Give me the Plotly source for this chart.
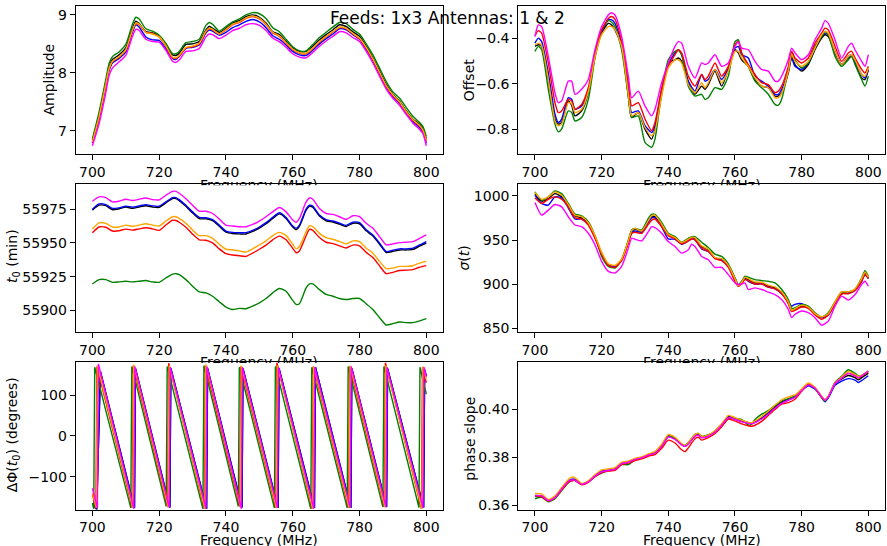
import plotly.graph_objects as go

# ---------------------------------------------------------------- data
# Amplitude vs frequency
freq_amp = [700, 702, 704, 705, 706, 708, 710, 712, 713, 714, 716, 718, 720, 722, 724, 725, 726, 728, 730,
            732, 734, 735, 736, 738, 740, 742, 744, 746, 748, 750, 752, 754, 756, 758, 760, 762, 764, 766,
            768, 770, 772, 774, 776, 778, 780, 782, 784, 786, 788, 790, 792, 794, 796, 798, 799, 800]
amp_black = [6.83, 7.26, 7.83, 8.11, 8.23, 8.31, 8.43, 8.77, 8.89, 8.85, 8.71, 8.69, 8.63, 8.49, 8.31, 8.30, 8.34,
             8.49, 8.50, 8.54, 8.74, 8.80, 8.77, 8.70, 8.77, 8.86, 8.90, 8.97, 9.00, 8.96, 8.86, 8.71, 8.66, 8.54,
             8.43, 8.37, 8.37, 8.46, 8.57, 8.66, 8.74, 8.83, 8.80, 8.71, 8.63, 8.46, 8.26, 8.03, 7.80, 7.63, 7.51,
             7.34, 7.20, 7.11, 7.03, 6.86]
amp_green = [6.86, 7.32, 7.88, 8.16, 8.28, 8.36, 8.49, 8.84, 8.96, 8.93, 8.76, 8.72, 8.65, 8.51, 8.33, 8.33, 8.37,
             8.52, 8.54, 8.58, 8.82, 8.87, 8.84, 8.72, 8.80, 8.88, 8.93, 9.00, 9.04, 9.02, 8.94, 8.78, 8.71, 8.58,
             8.45, 8.38, 8.38, 8.49, 8.61, 8.70, 8.79, 8.87, 8.85, 8.75, 8.67, 8.50, 8.31, 8.08, 7.85, 7.67, 7.56,
             7.40, 7.25, 7.14, 7.07, 6.90]
amp_orange = [6.81, 7.24, 7.80, 8.08, 8.20, 8.28, 8.40, 8.74, 8.86, 8.84, 8.70, 8.67, 8.62, 8.47, 8.27, 8.26, 8.30,
              8.44, 8.46, 8.51, 8.72, 8.77, 8.75, 8.67, 8.75, 8.84, 8.88, 8.95, 8.98, 8.94, 8.84, 8.70, 8.64, 8.52,
              8.41, 8.35, 8.34, 8.43, 8.54, 8.63, 8.71, 8.79, 8.77, 8.68, 8.60, 8.44, 8.24, 8.01, 7.78, 7.62, 7.50,
              7.33, 7.19, 7.09, 7.01, 6.83]
amp_red = [6.80, 7.22, 7.78, 8.06, 8.19, 8.27, 8.39, 8.73, 8.85, 8.83, 8.70, 8.68, 8.62, 8.46, 8.26, 8.25, 8.29,
           8.43, 8.45, 8.50, 8.71, 8.76, 8.74, 8.67, 8.74, 8.83, 8.87, 8.94, 8.97, 8.93, 8.83, 8.69, 8.63, 8.51,
           8.40, 8.34, 8.33, 8.42, 8.53, 8.62, 8.70, 8.78, 8.76, 8.67, 8.59, 8.43, 8.23, 8.00, 7.77, 7.61, 7.49,
           7.32, 7.18, 7.08, 7.00, 6.82]
amp_blue = [6.79, 7.20, 7.76, 8.04, 8.17, 8.25, 8.36, 8.70, 8.83, 8.79, 8.62, 8.57, 8.56, 8.42, 8.25, 8.23, 8.28,
            8.42, 8.44, 8.48, 8.69, 8.74, 8.72, 8.65, 8.70, 8.78, 8.83, 8.89, 8.92, 8.88, 8.78, 8.64, 8.58, 8.48,
            8.37, 8.31, 8.30, 8.39, 8.50, 8.59, 8.67, 8.76, 8.74, 8.66, 8.58, 8.41, 8.21, 7.98, 7.75, 7.59, 7.47,
            7.30, 7.16, 7.05, 6.98, 6.78]
amp_magenta = [6.74, 7.12, 7.65, 7.95, 8.08, 8.19, 8.30, 8.63, 8.75, 8.73, 8.58, 8.54, 8.53, 8.39, 8.20, 8.18, 8.22,
               8.37, 8.38, 8.42, 8.62, 8.67, 8.66, 8.59, 8.65, 8.73, 8.77, 8.83, 8.85, 8.82, 8.73, 8.60, 8.54, 8.44,
               8.33, 8.27, 8.26, 8.35, 8.46, 8.55, 8.63, 8.71, 8.69, 8.61, 8.54, 8.37, 8.17, 7.94, 7.72, 7.56, 7.44,
               7.28, 7.13, 7.02, 6.95, 6.74]

# Offset vs frequency
freq_off = [700, 701, 702, 704, 706, 707, 708, 710, 711, 712, 714, 716, 718, 720, 722, 723, 724, 726, 728, 729,
            731, 733, 735, 736, 738, 740, 742, 743, 744, 746, 748, 750, 751, 752, 754, 756, 758, 760, 761, 762,
            764, 766, 768, 770, 772, 773, 774, 776, 777, 778, 780, 782, 784, 786, 787, 788, 790, 792, 794, 795,
            796, 798, 799, 800]
off_magenta = [-0.393, -0.342, -0.349, -0.480, -0.640, -0.684, -0.676, -0.589, -0.589, -0.647, -0.625, -0.582,
               -0.451, -0.349, -0.298, -0.288, -0.298, -0.393, -0.567, -0.662, -0.633, -0.698, -0.742, -0.713,
               -0.596, -0.509, -0.436, -0.415, -0.422, -0.524, -0.575, -0.509, -0.516, -0.509, -0.473, -0.524,
               -0.509, -0.436, -0.415, -0.444, -0.451, -0.502, -0.538, -0.545, -0.589, -0.589, -0.567, -0.495,
               -0.444, -0.465, -0.495, -0.473, -0.407, -0.356, -0.323, -0.335, -0.407, -0.487, -0.436, -0.422,
               -0.451, -0.502, -0.524, -0.473]
off_red = [-0.390, -0.367, -0.378, -0.509, -0.684, -0.727, -0.720, -0.669, -0.676, -0.713, -0.691, -0.618, -0.465,
           -0.364, -0.313, -0.305, -0.317, -0.415, -0.596, -0.698, -0.684, -0.756, -0.807, -0.771, -0.625, -0.524,
           -0.473, -0.451, -0.465, -0.567, -0.611, -0.560, -0.582, -0.567, -0.509, -0.567, -0.524, -0.429, -0.415,
           -0.465, -0.516, -0.560, -0.596, -0.604, -0.640, -0.633, -0.611, -0.524, -0.458, -0.487, -0.509, -0.487,
           -0.422, -0.378, -0.356, -0.364, -0.436, -0.502, -0.465, -0.458, -0.487, -0.538, -0.553, -0.524]
off_blue = [-0.422, -0.400, -0.415, -0.553, -0.735, -0.771, -0.756, -0.662, -0.669, -0.713, -0.698, -0.633, -0.473,
            -0.371, -0.320, -0.320, -0.335, -0.422, -0.611, -0.727, -0.720, -0.785, -0.815, -0.785, -0.625, -0.516,
            -0.465, -0.451, -0.473, -0.589, -0.633, -0.560, -0.589, -0.582, -0.538, -0.582, -0.531, -0.444, -0.436,
            -0.473, -0.487, -0.567, -0.589, -0.611, -0.647, -0.647, -0.625, -0.545, -0.487, -0.524, -0.538, -0.509,
            -0.436, -0.393, -0.378, -0.385, -0.458, -0.516, -0.480, -0.473, -0.502, -0.560, -0.575, -0.538]
off_black = [-0.436, -0.429, -0.436, -0.582, -0.756, -0.778, -0.771, -0.676, -0.695, -0.742, -0.720, -0.640, -0.480,
             -0.378, -0.335, -0.342, -0.364, -0.436, -0.655, -0.749, -0.727, -0.800, -0.844, -0.800, -0.647, -0.509,
             -0.495, -0.487, -0.502, -0.596, -0.647, -0.611, -0.625, -0.604, -0.545, -0.611, -0.538, -0.451, -0.465,
             -0.495, -0.524, -0.582, -0.611, -0.618, -0.655, -0.655, -0.640, -0.553, -0.480, -0.516, -0.545, -0.516,
             -0.451, -0.400, -0.385, -0.393, -0.465, -0.516, -0.487, -0.480, -0.509, -0.575, -0.582, -0.538]
off_orange = [-0.429, -0.422, -0.433, -0.582, -0.764, -0.785, -0.778, -0.684, -0.687, -0.727, -0.713, -0.637, -0.483,
              -0.385, -0.349, -0.349, -0.361, -0.436, -0.647, -0.742, -0.727, -0.793, -0.829, -0.807, -0.655, -0.531,
              -0.495, -0.495, -0.509, -0.604, -0.640, -0.596, -0.618, -0.596, -0.538, -0.596, -0.545, -0.458, -0.458,
              -0.487, -0.524, -0.575, -0.611, -0.618, -0.662, -0.662, -0.643, -0.545, -0.473, -0.502, -0.524, -0.502,
              -0.444, -0.385, -0.371, -0.378, -0.458, -0.516, -0.480, -0.473, -0.495, -0.560, -0.567, -0.531]
off_green = [-0.458, -0.436, -0.451, -0.625, -0.778, -0.812, -0.800, -0.720, -0.727, -0.764, -0.749, -0.669, -0.487,
             -0.364, -0.323, -0.330, -0.349, -0.451, -0.655, -0.749, -0.742, -0.858, -0.880, -0.844, -0.640, -0.495,
             -0.458, -0.454, -0.473, -0.611, -0.655, -0.647, -0.669, -0.662, -0.618, -0.625, -0.567, -0.415, -0.407,
             -0.465, -0.524, -0.589, -0.618, -0.647, -0.691, -0.695, -0.669, -0.538, -0.458, -0.495, -0.531, -0.509,
             -0.436, -0.393, -0.371, -0.385, -0.480, -0.524, -0.495, -0.480, -0.516, -0.582, -0.611, -0.567]

# t0 (min) vs frequency
freq_t0 = [700, 702, 704, 706, 708, 710, 712, 714, 716, 718, 720, 722, 724, 725, 726, 728, 730, 732, 734, 736, 738,
           740, 742, 744, 746, 748, 750, 752, 754, 756, 758, 760, 761, 762, 764, 765, 766, 768, 770, 772, 774, 776,
           778, 780, 782, 784, 786, 788, 790, 792, 794, 796, 798, 800]
t0_magenta = [55980.9, 55984.1, 55983.6, 55980.4, 55980.9, 55982.4, 55981.4, 55982.4, 55983.3, 55982.1, 55981.9,
              55985.3, 55988.2, 55988.2, 55986.8, 55982.8, 55977.9, 55973.5, 55973.5, 55971.8, 55967.7, 55963.2,
              55962.5, 55962.0, 55962.0, 55963.7, 55966.2, 55969.4, 55973.0, 55976.2, 55973.0, 55966.9, 55965.2,
              55968.1, 55980.4, 55983.3, 55982.4, 55975.5, 55971.8, 55971.1, 55969.4, 55967.4, 55970.1, 55969.4,
              55964.5, 55960.8, 55954.7, 55948.5, 55949.3, 55950.2, 55950.5, 55951.0, 55953.4, 55955.9]
t0_blue = [55975.0, 55978.9, 55978.4, 55975.5, 55976.0, 55977.2, 55976.5, 55977.4, 55978.4, 55977.4, 55977.2,
           55980.4, 55983.6, 55983.6, 55982.1, 55977.9, 55973.0, 55968.9, 55968.6, 55967.2, 55963.2, 55958.8,
           55957.8, 55957.6, 55957.6, 55959.3, 55961.8, 55965.0, 55968.9, 55972.3, 55968.9, 55962.5, 55960.8,
           55963.2, 55975.0, 55977.9, 55977.2, 55970.6, 55967.2, 55966.2, 55964.7, 55963.0, 55965.4, 55965.0,
           55959.8, 55955.9, 55949.8, 55943.6, 55944.6, 55945.6, 55945.6, 55946.1, 55948.5, 55951.0]
t0_black = [55974.3, 55978.0, 55977.6, 55974.6, 55975.3, 55976.5, 55975.7, 55976.6, 55977.5, 55976.6, 55976.3,
            55979.6, 55982.9, 55982.8, 55981.3, 55977.1, 55972.2, 55968.0, 55967.8, 55966.5, 55962.4, 55958.0,
            55957.0, 55956.7, 55956.6, 55958.5, 55961.0, 55964.2, 55968.1, 55971.5, 55968.1, 55961.7, 55959.8,
            55962.4, 55974.2, 55977.1, 55976.4, 55969.9, 55966.4, 55965.5, 55963.9, 55962.2, 55964.6, 55964.2,
            55959.0, 55955.1, 55949.0, 55942.9, 55943.7, 55944.8, 55944.8, 55945.2, 55947.6, 55949.9]
t0_orange = [55960.3, 55964.9, 55964.5, 55961.8, 55961.8, 55963.2, 55962.3, 55963.2, 55964.2, 55963.2, 55962.5,
             55966.2, 55969.4, 55969.4, 55968.2, 55964.5, 55959.6, 55955.4, 55955.4, 55953.4, 55949.0, 55945.3,
             55944.9, 55944.1, 55943.2, 55945.6, 55948.5, 55951.5, 55955.4, 55957.8, 55955.4, 55949.0, 55945.6,
             55947.3, 55958.3, 55962.7, 55962.0, 55957.1, 55953.9, 55952.7, 55951.0, 55949.3, 55951.5, 55951.0,
             55946.1, 55942.4, 55936.3, 55930.9, 55931.4, 55932.6, 55932.6, 55933.1, 55935.0, 55936.3]
t0_red = [55957.5, 55961.8, 55961.6, 55958.8, 55959.0, 55960.2, 55959.5, 55960.4, 55961.2, 55960.4, 55959.3,
          55963.3, 55966.8, 55966.6, 55965.3, 55961.6, 55956.5, 55952.3, 55952.0, 55950.0, 55945.6, 55942.0,
          55941.0, 55940.5, 55940.0, 55942.5, 55945.3, 55948.4, 55952.3, 55955.0, 55952.4, 55946.0, 55942.7,
          55944.0, 55955.3, 55960.0, 55959.3, 55954.0, 55950.5, 55949.5, 55947.8, 55946.2, 55948.4, 55947.8,
          55943.0, 55939.2, 55933.0, 55927.2, 55928.2, 55929.6, 55929.8, 55930.2, 55932.0, 55933.2]
t0_green = [55919.6, 55922.8, 55922.8, 55920.8, 55921.1, 55921.6, 55921.1, 55921.6, 55922.1, 55921.1, 55920.8,
            55924.0, 55926.9, 55927.2, 55926.5, 55922.8, 55917.9, 55913.7, 55913.0, 55910.5, 55906.4, 55902.5,
            55900.7, 55901.5, 55901.2, 55903.2, 55905.6, 55908.8, 55913.0, 55916.2, 55914.2, 55907.4, 55904.4,
            55904.9, 55916.7, 55919.6, 55919.6, 55915.4, 55911.8, 55910.5, 55908.8, 55908.1, 55908.8, 55908.8,
            55904.9, 55900.7, 55894.6, 55889.2, 55890.2, 55891.4, 55890.9, 55890.9, 55892.2, 55893.9]

# sigma(t) vs frequency
freq_sig = [700, 702, 704, 706, 708, 710, 712, 714, 716, 718, 720, 722, 724, 726, 728, 729, 730, 732, 734, 735, 736,
            738, 740, 742, 744, 746, 747, 748, 750, 752, 754, 756, 758, 760, 761, 762, 763, 764, 766, 768, 770, 772,
            774, 776, 777, 778, 780, 782, 784, 786, 788, 790, 792, 794, 796, 798, 799, 800]
sig_black = [1002.6, 994.0, 997.0, 1002.6, 998.9, 989.5, 977.5, 975.2, 968.9, 953.9, 935.1, 922.0, 920.1, 927.6,
             948.2, 959.5, 962.5, 959.5, 970.8, 976.4, 976.4, 967.0, 955.8, 952.0, 946.4, 950.1, 952.8, 952.0,
             942.6, 938.9, 929.5, 927.6, 920.1, 905.1, 897.6, 901.4, 907.0, 905.1, 901.4, 901.4, 897.6, 895.8,
             890.1, 878.9, 869.5, 871.4, 875.1, 873.2, 865.8, 862.0, 865.8, 878.9, 890.1, 890.1, 893.9, 905.1,
             912.6, 907.0]
sig_orange = [1003.8, 996.2, 998.9, 1004.5, 1000.8, 990.2, 978.2, 976.4, 969.6, 955.0, 936.2, 923.1, 921.2, 928.4,
              949.0, 960.6, 963.2, 960.2, 971.9, 977.5, 978.2, 967.8, 956.5, 952.8, 947.1, 950.9, 953.1, 952.8,
              943.4, 939.6, 930.2, 928.8, 921.2, 906.2, 898.4, 902.1, 907.8, 906.2, 902.5, 902.1, 898.8, 896.9,
              891.2, 880.0, 870.2, 872.1, 876.2, 874.0, 866.5, 862.8, 866.5, 880.0, 891.2, 891.2, 894.6, 906.2,
              913.4, 907.8]
sig_red = [997.8, 991.4, 996.2, 998.9, 996.2, 987.6, 975.2, 973.8, 967.0, 952.0, 934.0, 921.2, 919.0, 926.5,
           946.4, 957.6, 958.8, 957.6, 967.8, 972.6, 973.8, 965.1, 955.0, 951.2, 945.6, 949.0, 951.2, 950.1,
           940.8, 937.0, 928.8, 926.5, 919.0, 903.2, 897.6, 900.2, 905.1, 904.0, 900.2, 900.2, 896.5, 894.6,
           889.0, 877.8, 868.8, 870.2, 874.0, 872.5, 865.0, 860.1, 865.0, 877.8, 889.0, 889.0, 892.8, 903.2,
           910.8, 906.2]
sig_blue = [1000.8, 991.4, 989.5, 998.9, 997.8, 986.5, 973.8, 973.8, 967.8, 952.8, 934.0, 921.2, 920.1, 927.6,
            947.5, 957.6, 960.2, 958.8, 970.0, 975.2, 975.2, 965.1, 951.2, 950.9, 945.2, 949.0, 951.2, 950.1,
            940.0, 937.0, 929.5, 927.6, 920.1, 907.0, 899.5, 902.5, 906.2, 903.2, 900.2, 900.2, 896.5, 894.6,
            889.0, 880.0, 875.1, 877.0, 877.8, 874.0, 865.8, 862.0, 865.0, 877.8, 889.0, 890.1, 892.8, 903.2,
            910.8, 906.2]
sig_green = [1004.5, 995.1, 998.9, 1005.6, 1002.6, 991.4, 979.4, 977.5, 970.8, 955.0, 931.4, 920.1, 918.2, 927.6,
             950.1, 961.4, 963.2, 961.4, 974.5, 979.0, 979.0, 970.0, 957.6, 953.9, 947.5, 952.0, 953.9, 953.9,
             947.5, 941.5, 934.0, 931.4, 922.8, 907.0, 898.8, 903.2, 908.9, 907.8, 905.1, 904.0, 903.2, 901.4,
             893.9, 882.6, 872.5, 873.2, 877.0, 875.1, 867.6, 862.8, 867.6, 880.0, 891.2, 891.2, 893.9, 907.0,
             915.2, 908.9]
sig_magenta = [992.5, 978.2, 983.9, 990.2, 987.6, 976.4, 967.0, 965.1, 957.6, 944.5, 925.8, 914.5, 912.6, 920.1,
               940.8, 952.0, 950.9, 949.0, 959.5, 965.1, 964.0, 957.6, 948.2, 942.6, 935.1, 938.9, 945.2, 942.6,
               931.4, 927.6, 919.0, 919.0, 910.8, 901.4, 899.5, 900.2, 901.4, 893.9, 895.8, 893.9, 890.9, 888.2,
               882.6, 871.4, 862.0, 865.8, 869.5, 867.6, 862.0, 853.4, 858.2, 875.1, 886.4, 881.9, 888.2, 899.5,
               903.2, 897.6]

# Phase at t0 (degrees): sawtooth vertices (frequency, phase) per series
ph_orange_f = [700.0, 701.2, 701.5, 712.1, 712.4, 722.7, 723.0, 733.7, 734.0, 744.3, 744.6, 755.1, 755.4, 766.0,
               766.3, 776.9, 777.2, 787.6, 787.9, 798.7, 799.0, 800.0]
ph_orange = [-140, -176, 172, -176, 174, -174, 172, -178, 175, -172, 172, -176, 172, -178, 170, -176, 172, -174,
             172, -178, 170, 138]
ph_green_f = [700.0, 700.4, 700.7, 711.5, 711.8, 722.1, 722.4, 733.1, 733.4, 743.7, 744.0, 754.5, 754.8, 765.4,
              765.7, 776.3, 776.6, 787.0, 787.3, 797.8, 798.1, 800.0]
ph_green = [-165, -178, 168, -176, 170, -172, 170, -178, 172, -172, 168, -176, 170, -178, 168, -176, 170, -174,
            170, -175, 168, 102]
ph_red_f = [700.0, 701.05, 701.35, 711.95, 712.25, 722.55, 722.85, 733.55, 733.85, 744.15, 744.45, 754.95, 755.25,
            765.85, 766.15, 776.75, 777.05, 787.45, 787.75, 798.55, 798.85, 800.0]
ph_red = [-143, -177, 170, -176, 172, -174, 178, -178, 172, -173, 170, -176, 179, -178, 170, -176, 170, -174,
          179, -178, 168, 130]
ph_magenta_f = [700.0, 701.5, 701.8, 712.4, 712.7, 723.0, 723.3, 734.0, 734.3, 744.6, 744.9, 755.4, 755.7, 766.3,
                766.6, 777.2, 777.5, 787.9, 788.2, 799.0, 799.3, 800.0]
ph_magenta = [-128, -176, 176, -178, 170, -175, 168, -178, 170, -178, 168, -176, 168, -178, 168, -176, 170, -174,
              168, -176, 168, 145]
ph_blue_f = [700.0, 701.3, 702.4, 712.6, 712.9, 723.2, 723.5, 734.2, 734.5, 744.8, 745.1, 755.6, 755.9, 766.5,
             766.8, 777.4, 777.7, 788.1, 788.4, 799.2, 799.5, 800.0]
ph_blue = [-165, -180, 158, -176, 165, -175, 165, -178, 165, -175, 165, -176, 165, -176, 168, -176, 165, -174,
           165, -175, 162, 146]
ph_black_f = [700.0, 701.3, 702.4, 712.6, 712.9, 723.2, 723.5, 734.2, 734.5, 744.8, 745.1, 755.6, 755.9, 766.5,
              766.8, 777.4, 777.7, 788.1, 788.4, 799.2, 799.5, 800.0]
ph_black = [-165, -180, 158, -176, 165, -175, 165, -178, 165, -175, 165, -176, 165, -176, 168, -176, 165, -174,
            165, -175, 162, 146]

# Phase slope vs frequency
freq_ps = [700, 702, 704, 706, 708, 710, 711, 712, 714, 716, 718, 720, 722, 724, 726, 728, 730, 732, 734, 736, 738,
           740, 742, 744, 745, 746, 748, 749, 750, 752, 754, 756, 758, 760, 762, 764, 765, 766, 768, 770, 772, 774,
           776, 778, 780, 782, 784, 786, 787, 788, 790, 792, 794, 796, 797, 798, 800]
ps_black = [0.3638, 0.3638, 0.3621, 0.3634, 0.3668, 0.3699, 0.3707, 0.3707, 0.3689, 0.3699, 0.3723, 0.3741, 0.3747,
            0.3751, 0.3775, 0.3781, 0.3792, 0.3799, 0.3810, 0.3819, 0.3847, 0.3888, 0.3877, 0.3853, 0.3846, 0.3858,
            0.3890, 0.3894, 0.3884, 0.3890, 0.3908, 0.3936, 0.3970, 0.3963, 0.3953, 0.3945, 0.3942, 0.3949, 0.3967,
            0.3988, 0.4011, 0.4031, 0.4042, 0.4055, 0.4079, 0.4100, 0.4086, 0.4052, 0.4036, 0.4052, 0.4107, 0.4127,
            0.4141, 0.4132, 0.4123, 0.4132, 0.4151]
ps_orange = [0.3650, 0.3648, 0.3625, 0.3640, 0.3675, 0.3708, 0.3718, 0.3716, 0.3692, 0.3703, 0.3728, 0.3748, 0.3752,
             0.3757, 0.3780, 0.3785, 0.3796, 0.3802, 0.3815, 0.3825, 0.3855, 0.3895, 0.3884, 0.3858, 0.3850, 0.3862,
             0.3895, 0.3900, 0.3888, 0.3894, 0.3912, 0.3940, 0.3975, 0.3966, 0.3955, 0.3946, 0.3945, 0.3952, 0.3970,
             0.3992, 0.4018, 0.4040, 0.4052, 0.4060, 0.4085, 0.4110, 0.4092, 0.4055, 0.4040, 0.4055, 0.4110, 0.4135,
             0.4158, 0.4145, 0.4138, 0.4142, 0.4160]
ps_red = [0.3640, 0.3636, 0.3618, 0.3632, 0.3665, 0.3696, 0.3703, 0.3704, 0.3686, 0.3696, 0.3720, 0.3737, 0.3743,
          0.3746, 0.3770, 0.3776, 0.3787, 0.3794, 0.3805, 0.3812, 0.3838, 0.3872, 0.3860, 0.3832, 0.3824, 0.3840,
          0.3878, 0.3884, 0.3872, 0.3882, 0.3900, 0.3928, 0.3960, 0.3952, 0.3940, 0.3932, 0.3930, 0.3934, 0.3950,
          0.3975, 0.4000, 0.4022, 0.4028, 0.4042, 0.4075, 0.4105, 0.4090, 0.4050, 0.4040, 0.4055, 0.4110, 0.4132,
          0.4150, 0.4140, 0.4132, 0.4138, 0.4158]
ps_blue = [0.3642, 0.3640, 0.3622, 0.3636, 0.3670, 0.3701, 0.3709, 0.3708, 0.3690, 0.3700, 0.3725, 0.3742, 0.3748,
           0.3752, 0.3776, 0.3782, 0.3793, 0.3800, 0.3811, 0.3820, 0.3848, 0.3889, 0.3878, 0.3855, 0.3848, 0.3860,
           0.3891, 0.3896, 0.3886, 0.3891, 0.3909, 0.3937, 0.3968, 0.3962, 0.3952, 0.3944, 0.3941, 0.3946, 0.3962,
           0.3982, 0.4005, 0.4026, 0.4040, 0.4052, 0.4078, 0.4098, 0.4085, 0.4050, 0.4032, 0.4048, 0.4100, 0.4118,
           0.4128, 0.4122, 0.4112, 0.4120, 0.4140]
ps_green = [0.3628, 0.3634, 0.3615, 0.3628, 0.3662, 0.3695, 0.3703, 0.3705, 0.3688, 0.3698, 0.3720, 0.3735, 0.3745,
            0.3748, 0.3770, 0.3770, 0.3790, 0.3800, 0.3812, 0.3822, 0.3850, 0.3890, 0.3880, 0.3856, 0.3850, 0.3862,
            0.3896, 0.3900, 0.3888, 0.3895, 0.3908, 0.3930, 0.3962, 0.3962, 0.3958, 0.3935, 0.3938, 0.3958, 0.3980,
            0.3995, 0.4015, 0.4035, 0.4045, 0.4055, 0.4082, 0.4105, 0.4088, 0.4048, 0.4035, 0.4052, 0.4112, 0.4138,
            0.4165, 0.4150, 0.4140, 0.4142, 0.4158]
ps_magenta = [0.3640, 0.3640, 0.3620, 0.3633, 0.3668, 0.3700, 0.3706, 0.3705, 0.3688, 0.3698, 0.3722, 0.3740, 0.3746,
              0.3750, 0.3774, 0.3780, 0.3792, 0.3798, 0.3810, 0.3818, 0.3846, 0.3885, 0.3875, 0.3852, 0.3846, 0.3856,
              0.3888, 0.3892, 0.3882, 0.3888, 0.3905, 0.3934, 0.3966, 0.3958, 0.3948, 0.3942, 0.3940, 0.3945, 0.3960,
              0.3980, 0.4005, 0.4025, 0.4038, 0.4050, 0.4078, 0.4102, 0.4088, 0.4052, 0.4038, 0.4052, 0.4108, 0.4130,
              0.4150, 0.4140, 0.4132, 0.4140, 0.4160]

freq_ticks = [700, 720, 740, 760, 780, 800]

# ---------------------------------------------------------------- figure
W, H = 887, 546
FONT = "DejaVu Sans"
COLORS = {"black": "#000000", "blue": "#0000ff", "green": "#008000",
          "red": "#ff0000", "orange": "#ffa500", "magenta": "#ff00ff"}


def px_x(p):
    return p / W


def px_y(p):
    return 1 - p / H


COL_L = [px_x(75.7), px_x(443.0)]
COL_R = [px_x(518.3), px_x(885.0)]
ROW_1 = [px_y(155.0), px_y(5.7)]
ROW_2 = [px_y(334.3), px_y(185.7)]
ROW_3 = [px_y(513.3), px_y(365.0)]

panels = [
    # (axis suffix, x domain, y domain, y range, y ticks, y tick text, series, spline?)
    ("", COL_L, ROW_1, [6.6, 9.16], [7, 8, 9], ["7", "8", "9"],
     [("black", freq_amp, amp_black), ("blue", freq_amp, amp_blue), ("green", freq_amp, amp_green),
      ("red", freq_amp, amp_red), ("orange", freq_amp, amp_orange), ("magenta", freq_amp, amp_magenta)], True),
    ("2", COL_R, ROW_1, [-0.909, -0.257], [-0.8, -0.6, -0.4], ["\u22120.8", "\u22120.6", "\u22120.4"],
     [("black", freq_off, off_black), ("blue", freq_off, off_blue), ("green", freq_off, off_green),
      ("red", freq_off, off_red), ("orange", freq_off, off_orange), ("magenta", freq_off, off_magenta)], True),
    ("3", COL_L, ROW_2, [55884.1, 55993.4], [55900, 55925, 55950, 55975], ["55900", "55925", "55950", "55975"],
     [("black", freq_t0, t0_black), ("blue", freq_t0, t0_blue), ("green", freq_t0, t0_green),
      ("red", freq_t0, t0_red), ("orange", freq_t0, t0_orange), ("magenta", freq_t0, t0_magenta)], True),
    ("4", COL_R, ROW_2, [845.9, 1013.1], [850, 900, 950, 1000], ["850", "900", "950", "1000"],
     [("black", freq_sig, sig_black), ("blue", freq_sig, sig_blue), ("green", freq_sig, sig_green),
      ("red", freq_sig, sig_red), ("orange", freq_sig, sig_orange), ("magenta", freq_sig, sig_magenta)], True),
    ("5", COL_L, ROW_3, [-180, 180], [-100, 0, 100], ["\u2212100", "0", "100"],
     [("black", ph_black_f, ph_black), ("blue", ph_blue_f, ph_blue), ("green", ph_green_f, ph_green),
      ("red", ph_red_f, ph_red), ("orange", ph_orange_f, ph_orange), ("magenta", ph_magenta_f, ph_magenta)], False),
    ("6", COL_R, ROW_3, [0.3583, 0.4196], [0.36, 0.38, 0.40], ["0.36", "0.38", "0.40"],
     [("black", freq_ps, ps_black), ("blue", freq_ps, ps_blue), ("green", freq_ps, ps_green),
      ("red", freq_ps, ps_red), ("orange", freq_ps, ps_orange), ("magenta", freq_ps, ps_magenta)], True),
]

fig = go.Figure()
axis_common = dict(showline=True, mirror=True, linecolor="black", linewidth=1, ticks="outside",
                   ticklen=5, tickwidth=1, tickcolor="black", showgrid=False, zeroline=False,
                   tickfont=dict(family=FONT, size=14, color="black"))
layout = {}
for suffix, xdom, ydom, yrange, yticks, ytext, series, smooth in panels:
    for color, xs, ys in series:
        line = dict(color=COLORS[color], width=1.4)
        if smooth:
            line.update(shape="spline", smoothing=0.6)
        fig.add_trace(go.Scatter(x=xs, y=ys, mode="lines", line=line, showlegend=False,
                                 xaxis="x" + suffix, yaxis="y" + suffix, hoverinfo="skip"))
    layout["xaxis" + suffix] = dict(domain=xdom, anchor="y" + suffix, range=[695, 805],
                                    tickvals=freq_ticks, ticktext=[str(t) for t in freq_ticks], **axis_common)
    layout["yaxis" + suffix] = dict(domain=ydom, anchor="x" + suffix, range=yrange,
                                    tickvals=yticks, ticktext=ytext, **axis_common)

fig.update_layout(width=W, height=H, margin=dict(l=0, r=0, t=0, b=0),
                  paper_bgcolor="white", plot_bgcolor="white", **layout)

TXT = dict(xref="paper", yref="paper", showarrow=False, borderpad=0)
ann = []
# figure title
ann.append(dict(text="Feeds: 1x3 Antennas: 1 & 2", x=px_x(447), y=px_y(6.6), xanchor="center",
                yanchor="top", font=dict(family=FONT, size=17, color="black"), **TXT))

# y-axis titles
ylabels = [
    ("Amplitude", 48.7, 80.4),
    ("Offset", 468.5, 80.4),
    ("<i>t</i><sub>0</sub> (min)", 12.8, 258.0),
    ("<i>\u03c3</i>(<i>t</i>)", 464.0, 260.5),
    ("\u0394\u03a6(<i>t</i><sub>0</sub>) (degrees)", 12.5, 438.0),
    ("phase slope", 470.2, 441.7),
]
for text, cx, cy in ylabels:
    ann.append(dict(text=text, x=px_x(cx), y=px_y(cy), xanchor="center", yanchor="middle",
                    textangle=-90, font=dict(family=FONT, size=14, color="black"), **TXT))

# x-axis titles; upper rows are partly hidden by the panel below
for cx in (259.4, 701.7):
    for top, visible in ((177.0, 8.2), (355.6, 8.9)):
        ann.append(dict(text="Frequency (MHz)", x=px_x(cx), y=px_y(top), xanchor="center",
                        yanchor="top", valign="top", height=visible,
                        font=dict(family=FONT, size=14, color="black"), **TXT))
    ann.append(dict(text="Frequency (MHz)", x=px_x(cx), y=px_y(535.4), xanchor="center",
                    yanchor="top", valign="top", font=dict(family=FONT, size=14, color="black"), **TXT))

fig.update_layout(annotations=ann)
fig.write_html("out.html")
